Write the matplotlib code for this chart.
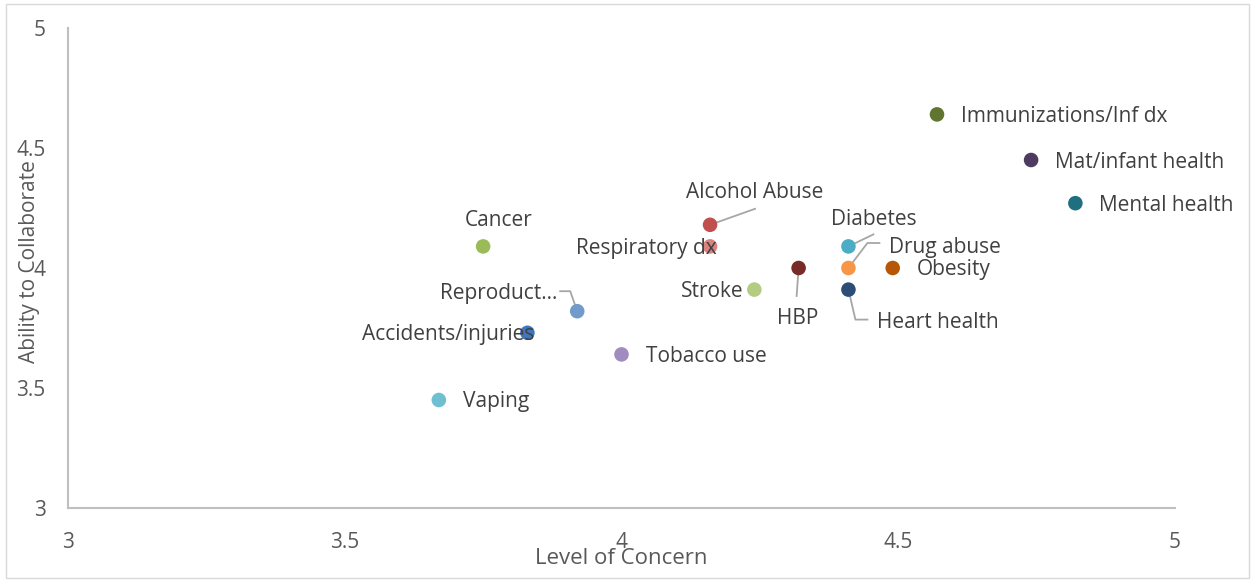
import matplotlib
matplotlib.use("Agg")
import matplotlib.pyplot as plt
from matplotlib.patches import Rectangle
from matplotlib.transforms import IdentityTransform

plt.rcParams['font.family'] = ['Open Sans', 'DejaVu Sans']

# issue scores: level of concern (x) vs ability to collaborate (y)
names = ["Immunizations/Inf dx", "Mat/infant health", "Mental health", "Cancer",
         "Alcohol Abuse", "Respiratory dx", "Diabetes", "Drug abuse", "Obesity",
         "HBP", "Stroke", "Heart health", "Reproduct…", "Accidents/injuries",
         "Tobacco use", "Vaping"]
concern = [4.57, 4.74, 4.82, 3.75, 4.16, 4.16, 4.41, 4.41, 4.49,
           4.32, 4.24, 4.41, 3.92, 3.83, 4.00, 3.67]
collaborate = [4.64, 4.45, 4.27, 4.09, 4.18, 4.09, 4.09, 4.00, 4.00,
               4.00, 3.91, 3.91, 3.82, 3.73, 3.64, 3.45]
colors = ["#5f7530", "#4e3b62", "#1f6f80", "#9bbb59", "#c0504d", "#d9827f",
          "#4bacc6", "#f79646", "#b65708", "#772c2a", "#b3cc82", "#2c4d75",
          "#729aca", "#3f76bd", "#a08cc0", "#6fbfd3"]
ticks = [3, 3.5, 4, 4.5, 5]
tick_labels = ["3", "3.5", "4", "4.5", "5"]

# label placement in pixels: (dx, dy, ha, leader polyline)
label_pos = {
    "Immunizations/Inf dx": (24, -2, "left", None),
    "Mat/infant health": (24, -2, "left", None),
    "Mental health": (24, -2, "left", None),
    "Obesity": (24, -2, "left", None),
    "Tobacco use": (24, -2, "left", None),
    "Vaping": (24, -2, "left", None),
    "Cancer": (16, 26, "center", None),
    "Respiratory dx": (7, -2, "right", None),
    "Stroke": (-11, -2, "right", None),
    "Accidents/injuries": (7, -2, "right", None),
    "Alcohol Abuse": (45, 32, "center", [(0, 0), (45, 16)]),
    "Diabetes": (25, 27, "center", [(0, 0), (25, 12)]),
    "Drug abuse": (41, 21, "left", [(0, 0), (19, 25), (31, 25)]),
    "HBP": (-1, -51, "center", [(0, 0), (-2, -28)]),
    "Heart health": (29, -33, "left", [(0, 0), (7, -30), (19, -30)]),
    "Reproduct…": (-20, 18, "right", [(0, 0), (-7, 20), (-17, 20)]),
}

fig = plt.figure(figsize=(12.55, 5.82), dpi=100)
ax = fig.add_axes([68 / 1255, 74 / 582, 1107 / 1255, 480 / 582])
ax.set_xlim(3, 5)
ax.set_ylim(3, 5)

ax.scatter(concern, collaborate, s=110, c=colors, zorder=3, linewidths=0)

for name, x, y in zip(names, concern, collaborate):
    dx, dy, ha, leader = label_pos[name]
    if leader:
        px, py = ax.transData.transform((x, y))
        lx = [px + p[0] for p in leader]
        ly = [py + p[1] for p in leader]
        ax.plot(lx, ly, color="#a6a6a6", lw=1.3, transform=IdentityTransform(),
                zorder=2, clip_on=False)
    ax.annotate(name, (x, y), xytext=(dx, dy), textcoords="offset pixels",
                ha=ha, va="center", fontsize=15, color="#404040", zorder=4)

ax.set_xticks(ticks)
ax.set_yticks(ticks)
ax.set_xticklabels(tick_labels)
ax.set_yticklabels(tick_labels)
ax.tick_params(length=0, labelsize=15, colors="#595959")
ax.tick_params(axis="x", pad=17)
ax.tick_params(axis="y", pad=16)
for side in ["top", "right"]:
    ax.spines[side].set_visible(False)
for side in ["left", "bottom"]:
    ax.spines[side].set_color("#bfbfbf")
    ax.spines[side].set_linewidth(1.5)

fig.text(621 / 1255, 1 - 558 / 582, "Level of Concern", ha="center", va="center",
         fontsize=16, color="#595959")
fig.text(30 / 1255, 1 - 262 / 582, "Ability to Collaborate", ha="center", va="center",
         rotation=90, fontsize=15, color="#595959")

fig.patches.append(Rectangle((6 / 1255, 4 / 582), 1243 / 1255, 574 / 582,
                             transform=fig.transFigure, fill=False,
                             edgecolor="#d9d9d9", lw=1))

fig.savefig("out.png", dpi=100)
